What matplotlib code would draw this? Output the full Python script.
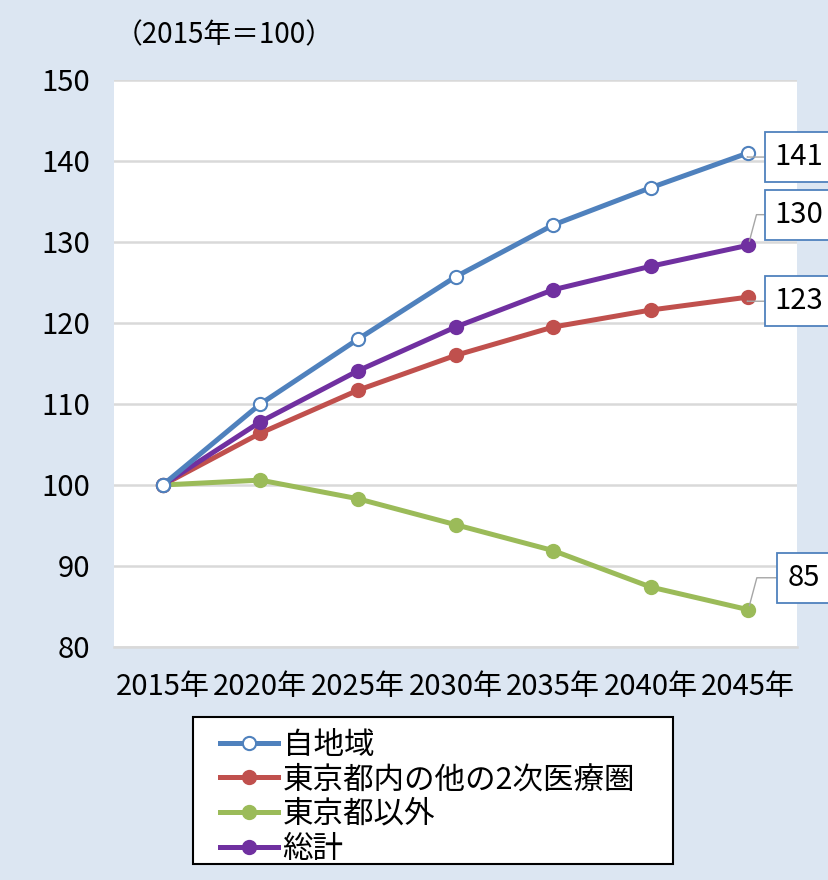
import numpy as np
import matplotlib
matplotlib.use('Agg')
import matplotlib.pyplot as plt
from matplotlib.patches import Rectangle

plt.rcParams['font.family'] = ['Noto Sans CJK JP', 'DejaVu Sans']

years = ['2015年', '2020年', '2025年', '2030年', '2035年', '2040年', '2045年']
jichiiki = [100, 110.0, 118.0, 125.7, 132.1, 136.7, 141.0]
tonai_other = [100, 106.4, 111.7, 116.0, 119.5, 121.6, 123.2]
tokyo_outside = [100, 100.6, 98.3, 95.1, 91.9, 87.4, 84.6]
total = [100, 107.8, 114.1, 119.5, 124.1, 127.0, 129.6]

series_names = ['自地域', '東京都内の他の2次医療圏', '東京都以外', '総計']
colors = ['#4f81bd', '#c0504d', '#9bbb59', '#7030a0']
end_labels = ['141', '123', '85', '130']

bg = '#dce6f2'
fig = plt.figure(figsize=(8.29, 8.8), dpi=100, facecolor=bg)
ax = fig.add_axes([0.1375, 0.2648, 0.824, 0.6443])
ax.set_facecolor('white')

x = np.arange(len(years))
data = [jichiiki, tonai_other, tokyo_outside, total]
for i, (vals, name, c) in enumerate(zip(data, series_names, colors)):
    face = 'white' if i == 0 else c
    ax.plot(x, vals, color=c, lw=3.6, marker='o', ms=9.5, mfc=face,
            mec=c, mew=1.5, label=name, zorder=3 + (i == 0))

# end-point labels
label_offsets = [(19, -3), (19, -3), (28, 23), (19, 22)]
for vals, txt, off in zip(data, end_labels, label_offsets):
    ax.annotate(txt, xy=(x[-1], vals[-1]), xytext=off, textcoords='offset points',
                fontsize=21, ha='left', va='center',
                bbox=dict(boxstyle='square,pad=0.34', fc='white', ec='#4f81bd', lw=1.3),
                arrowprops=dict(arrowstyle='-', color='#a6a6a6', lw=1.0,
                                shrinkA=0, shrinkB=3,
                                connectionstyle='angle,angleA=0,angleB=75,rad=0'),
                annotation_clip=False, zorder=6)

ax.set_xlim(-0.5, len(years) - 0.5)
ax.set_ylim(80, 150)
ax.set_yticks(np.arange(80, 151, 10))
ax.set_xticks(x)
ax.set_xticklabels(years, fontsize=21)
ax.tick_params(axis='y', labelsize=21, length=0, pad=17)
ax.tick_params(axis='x', length=0, pad=18)
ax.grid(axis='y', color='#d9d9d9', lw=1.8)
ax.set_axisbelow(True)
for s in ['top', 'right', 'left']:
    ax.spines[s].set_visible(False)
ax.spines['bottom'].set_color('#d9d9d9')
ax.spines['bottom'].set_linewidth(1.8)

fig.text(0.138, 0.960, '（2015年＝100）', fontsize=20, ha='left', va='center')

# legend frame drawn separately so the padding matches
fig.patches.append(Rectangle((0.2328, 0.0182), 0.579, 0.167, transform=fig.transFigure,
                             fc='white', ec='black', lw=1.5, zorder=1))
leg = fig.legend(loc='upper left', bbox_to_anchor=(0.2654, 0.171), fontsize=22,
                 frameon=False, handlelength=1.9, labelspacing=0.12, borderpad=0,
                 handletextpad=0.15, borderaxespad=0)
leg.set_zorder(2)

fig.savefig('out.png', dpi=100, facecolor=bg)
